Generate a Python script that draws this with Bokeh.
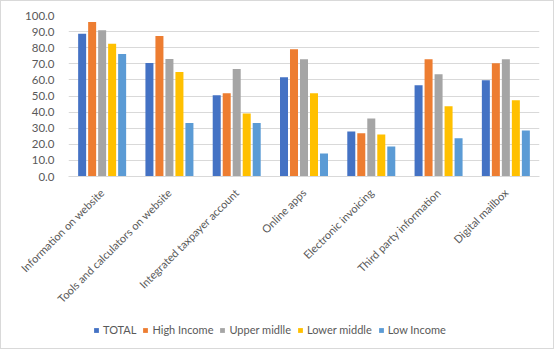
from bokeh.plotting import figure
from bokeh.layouts import column
from bokeh.models import ColumnDataSource, FactorRange, Legend, LegendItem, NumeralTickFormatter, FixedTicker
from bokeh.transform import dodge
from bokeh.embed import file_html
from bokeh.resources import INLINE
import math

categories = ["Information on website", "Tools and calculators on website", "Integrated taxpayer account",
              "Online apps", "Electronic invoicing", "Third party information", "Digital mailbox"]
series_names = ["TOTAL", "High Income", "Upper midlle", "Lower middle", "Low Income"]
total = [88.6, 70.5, 50.4, 61.6, 28.0, 56.6, 59.8]
high_income = [95.9, 87.3, 51.7, 79.0, 26.8, 72.8, 70.3]
upper_middle = [90.9, 73.0, 66.8, 72.8, 36.1, 63.5, 72.8]
lower_middle = [82.4, 64.9, 39.2, 51.7, 26.1, 43.6, 47.3]
low_income = [76.1, 33.2, 33.2, 14.3, 18.7, 23.7, 28.6]
y_ticks = [0, 10, 20, 30, 40, 50, 60, 70, 80, 90, 100]

colors = ["#4472C4", "#ED7D31", "#A5A5A5", "#FFC000", "#5B9BD5"]
keys = ["total", "high", "upper", "lower", "low"]

source = ColumnDataSource(dict(cat=categories, total=total, high=high_income,
                               upper=upper_middle, lower=lower_middle, low=low_income))

FONT = "Lato"
TXT = "#595959"

# main chart
p = figure(x_range=FactorRange(*categories), y_range=(0, 100), width=552, frame_height=161,
           output_backend="svg", toolbar_location=None,
           min_border_left=67, min_border_right=14, min_border_top=14, min_border_bottom=137)
p.x_range.range_padding = 0
p.outline_line_color = None

pitch = 1.0 / 6.73
for i, (k, c) in enumerate(zip(keys, colors)):
    p.vbar(x=dodge("cat", (i - 2) * pitch, range=p.x_range), top=k, width=0.119,
           source=source, fill_color=c, line_color=None)

p.yaxis.ticker = FixedTicker(ticks=y_ticks)
p.yaxis.formatter = NumeralTickFormatter(format="0.0")
p.yaxis.axis_line_color = None
p.yaxis.major_tick_line_color = None
p.yaxis.minor_tick_line_color = None
p.yaxis.major_label_text_font = FONT
p.yaxis.major_label_text_font_size = "11.5px"
p.yaxis.major_label_text_color = TXT
p.yaxis.major_label_standoff = 8

p.xaxis.axis_line_color = "#D9D9D9"
p.xaxis.major_tick_line_color = None
p.xaxis.minor_tick_line_color = None
p.xaxis.major_label_orientation = math.pi / 4
p.xaxis.major_label_text_font = FONT
p.xaxis.major_label_text_font_size = "11px"
p.xaxis.major_label_text_color = TXT
p.xaxis.major_label_standoff = 8

p.xgrid.grid_line_color = None
p.ygrid.grid_line_color = "#D9D9D9"
p.ygrid.ticker = FixedTicker(ticks=y_ticks)

# legend strip (same bars, drawn out of view, used only as legend glyphs)
lg = figure(x_range=FactorRange(*categories), y_range=(1000, 1001), width=552, height=35,
            output_backend="svg", toolbar_location=None,
            x_axis_location=None, y_axis_location=None,
            min_border_left=0, min_border_right=0, min_border_top=0, min_border_bottom=0)
lg.outline_line_color = None
lg.xgrid.grid_line_color = None
lg.ygrid.grid_line_color = None
leg_renderers = []
for i, (k, c) in enumerate(zip(keys, colors)):
    r = lg.vbar(x="cat", top=k, width=0.1, source=source, fill_color=c, line_color=None)
    leg_renderers.append(r)

legend = Legend(items=[LegendItem(label=n, renderers=[r]) for n, r in zip(series_names, leg_renderers)],
                orientation="horizontal", location=(25, 12),
                label_text_font=FONT, label_text_font_size="11px", label_text_color=TXT,
                glyph_width=6, glyph_height=6, label_standoff=4, spacing=6,
                border_line_color=None, background_fill_alpha=0, padding=0, margin=0)
lg.add_layout(legend, "center")

layout = column(p, lg, spacing=0)
layout.styles = {"border": "1px solid #D9D9D9"}

open("out.html", "w").write(file_html(layout, INLINE))
